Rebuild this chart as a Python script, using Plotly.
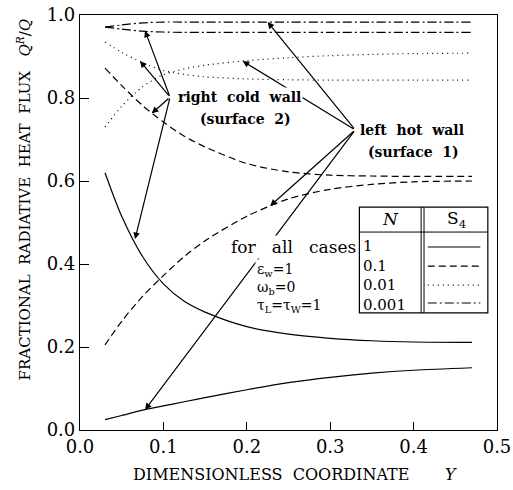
import plotly.graph_objects as go

# Dimensionless coordinate positions shared by all curves
Y_POS = [0.03, 0.05, 0.075, 0.10, 0.125, 0.15, 0.20, 0.25, 0.30, 0.35, 0.40, 0.47]

# Fractional radiative heat flux, per optical parameter N
# (cold = right cold wall / surface 2, hot = left hot wall / surface 1)
N1_COLD = [0.620, 0.515, 0.418, 0.352, 0.310, 0.284, 0.249, 0.231, 0.221, 0.215, 0.212, 0.211]
N1_HOT = [0.025, 0.035, 0.048, 0.058, 0.068, 0.078, 0.097, 0.114, 0.127, 0.137, 0.144, 0.150]
N01_COLD = [0.872, 0.830, 0.782, 0.742, 0.708, 0.682, 0.642, 0.622, 0.614, 0.612, 0.611, 0.611]
N01_HOT = [0.205, 0.262, 0.322, 0.372, 0.418, 0.456, 0.515, 0.557, 0.580, 0.592, 0.598, 0.600]
N001_COLD = [0.935, 0.910, 0.885, 0.866, 0.857, 0.851, 0.846, 0.844, 0.843, 0.843, 0.843, 0.843]
N001_HOT = [0.730, 0.780, 0.827, 0.856, 0.870, 0.879, 0.890, 0.897, 0.902, 0.905, 0.907, 0.908]
N0001_COLD = [0.971, 0.966, 0.961, 0.959, 0.958, 0.958, 0.958, 0.958, 0.958, 0.958, 0.958, 0.958]
N0001_HOT = [0.971, 0.976, 0.981, 0.983, 0.983, 0.983, 0.983, 0.983, 0.983, 0.983, 0.983, 0.983]

N_LABELS = ["1", "0.1", "0.01", "0.001"]
X_TICKS = [0.0, 0.1, 0.2, 0.3, 0.4, 0.5]
Y_TICKS = [0.0, 0.2, 0.4, 0.6, 0.8, 1.0]

FONT = "DejaVu Serif"
DASHES = ["solid", "7px,4px", "1px,4px", "9px,3px,2px,3px"]

series = [
    (N1_COLD, N1_HOT),
    (N01_COLD, N01_HOT),
    (N001_COLD, N001_HOT),
    (N0001_COLD, N0001_HOT),
]

fig = go.Figure()
for (cold, hot), dash in zip(series, DASHES):
    for vals in (cold, hot):
        fig.add_trace(go.Scatter(
            x=Y_POS, y=vals, mode="lines",
            line=dict(color="black", width=1.2, dash=dash, shape="spline", smoothing=0.8),
            showlegend=False, hoverinfo="skip",
        ))

annotations = []

# Leader arrows from the wall labels to their curves
cold_tip = (0.108, 0.802)
cold_targets = [(0.078, 0.962), (0.072, 0.889), (0.086, 0.763), (0.066, 0.460)]
hot_tip = (0.330, 0.723)
hot_targets = [(0.225, 0.983), (0.195, 0.889), (0.228, 0.540), (0.078, 0.049)]
for tip, targets in ((cold_tip, cold_targets), (hot_tip, hot_targets)):
    for tx, ty in targets:
        annotations.append(dict(
            x=tx, y=ty, ax=tip[0], ay=tip[1], xref="x", yref="y", axref="x", ayref="y",
            text="", showarrow=True, arrowhead=2, arrowsize=1.1, arrowwidth=1.2,
            arrowcolor="black", standoff=0, startstandoff=0,
        ))


def label(text, x, y, xanchor="left", size=14, bg="white", align="left"):
    annotations.append(dict(
        x=x, y=y, xref="x", yref="y", text=text, showarrow=False,
        xanchor=xanchor, yanchor="middle", bgcolor=bg, borderpad=1, align=align,
        font=dict(family=FONT, size=size, color="black"),
    ))


label("<b>right  cold  wall</b>", 0.115, 0.802)
label("<b>(surface  2)</b>", 0.198, 0.750, xanchor="center")
label("<b>left  hot  wall</b>", 0.333, 0.723)
label("<b>(surface  1)</b>", 0.400, 0.670, xanchor="center")
label("for   all   cases", 0.333, 0.441, xanchor="right", size=17)
label("ε<sub>w</sub>=1<br>ω<sub>b</sub>=0<br>τ<sub>L</sub>=τ<sub>W</sub>=1", 0.210, 0.343, size=14)

# Legend table: N versus S4 line style
tab_x0, tab_x1 = 0.335, 0.489
tab_div = (0.409, 0.4125)
tab_y0, tab_y1, tab_head = 0.282, 0.537, 0.477
row_y = [0.441, 0.395, 0.349, 0.306]
shapes = [
    dict(type="rect", xref="x", yref="y", x0=tab_x0, x1=tab_x1, y0=tab_y0, y1=tab_y1,
         line=dict(color="black", width=1.2), fillcolor="white", layer="above"),
    dict(type="line", xref="x", yref="y", x0=tab_x0, x1=tab_x1, y0=tab_head, y1=tab_head,
         line=dict(color="black", width=1), layer="above"),
]
for dx in tab_div:
    shapes.append(dict(type="line", xref="x", yref="y", x0=dx, x1=dx, y0=tab_y0, y1=tab_y1,
                       line=dict(color="black", width=1), layer="above"))
for ry, dash in zip(row_y, DASHES):
    shapes.append(dict(type="line", xref="x", yref="y", x0=0.417, x1=0.480, y0=ry, y1=ry,
                       line=dict(color="black", width=1.2, dash=dash), layer="above"))
label("<br>".join(N_LABELS), 0.337, sum(row_y) / len(row_y), size=15, bg="rgba(0,0,0,0)")
label("<i>N</i>", 0.372, 0.508, xanchor="center", size=17, bg="rgba(0,0,0,0)")
label("S<sub>4</sub>", 0.451, 0.508, xanchor="center", size=17, bg="rgba(0,0,0,0)")

# Axis titles
annotations.append(dict(
    x=0.515, y=-0.108, xref="paper", yref="paper", showarrow=False,
    text="DIMENSIONLESS  COORDINATE       <i>Y</i>", xanchor="center", yanchor="middle",
    font=dict(family=FONT, size=16, color="black"),
))
annotations.append(dict(
    x=-0.135, y=0.555, xref="paper", yref="paper", showarrow=False, textangle=-90,
    text="FRACTIONAL  RADIATIVE  HEAT  FLUX   <i>Q</i><sup><i>R</i></sup>/<i>Q</i>",
    xanchor="center", yanchor="middle",
    font=dict(family=FONT, size=15, color="black"),
))

fig.update_layout(
    width=513, height=490,
    margin=dict(l=80, r=16, t=15, b=60),
    paper_bgcolor="white", plot_bgcolor="white",
    showlegend=False,
    annotations=annotations, shapes=shapes,
    font=dict(family=FONT, color="black"),
)
fig.update_xaxes(
    range=[0, 0.5], tickvals=X_TICKS, tickformat=".1f", automargin=False,
    ticks="inside", ticklen=8, tickcolor="black", tickwidth=1,
    showline=True, mirror=True, linecolor="black", linewidth=1.2,
    showgrid=False, zeroline=False, tickfont=dict(family=FONT, size=18, color="black"),
)
fig.update_yaxes(
    range=[0, 1], tickvals=Y_TICKS, tickformat=".1f", automargin=False,
    ticks="inside", ticklen=9, tickcolor="black", tickwidth=1,
    showline=True, mirror=True, linecolor="black", linewidth=1.2,
    showgrid=False, zeroline=False, tickfont=dict(family=FONT, size=18, color="black"),
)

fig.write_html("out.html")
